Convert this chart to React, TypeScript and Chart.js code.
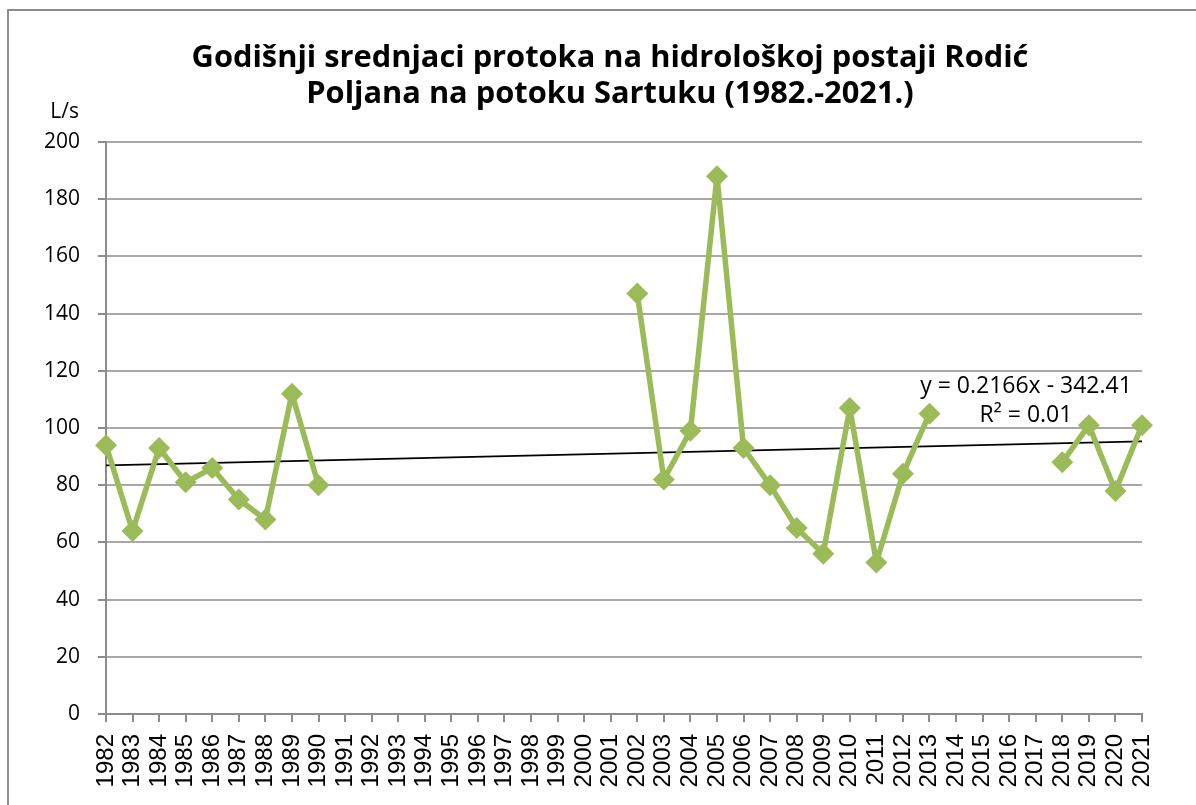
import React, { useEffect, useRef } from "react";
import { Chart, registerables } from "chart.js";

Chart.register(...registerables);

const years = [
  "1982", "1983", "1984", "1985", "1986", "1987", "1988", "1989", "1990", "1991",
  "1992", "1993", "1994", "1995", "1996", "1997", "1998", "1999", "2000", "2001",
  "2002", "2003", "2004", "2005", "2006", "2007", "2008", "2009", "2010", "2011",
  "2012", "2013", "2014", "2015", "2016", "2017", "2018", "2019", "2020", "2021",
];

const flow: (number | null)[] = [
  94, 64, 93, 81, 86, 75, 68, 112, 80, null,
  null, null, null, null, null, null, null, null, null, null,
  147, 82, 99, 188, 93, 80, 65, 56, 107, 53,
  84, 105, null, null, null, null, 88, 101, 78, 101,
];

const yTicks = [0, 20, 40, 60, 80, 100, 120, 140, 160, 180, 200];

const trendSlope = 0.2166;
const trendIntercept = -342.41;

const titleLines = [
  "Godišnji srednjaci protoka na hidrološkoj postaji Rodić",
  "Poljana na potoku Sartuku (1982.-2021.)",
];
const unitLabel = "L/s";
const equationLines = ["y = 0.2166x - 342.41", "R² = 0.01"];

const W = 1196;
const H = 805;
const TEXT_FONT = "'Open Sans', sans-serif";

const overlayPlugin = {
  id: "overlay",
  beforeDraw(chart: any) {
    const ctx = chart.ctx;
    ctx.save();
    ctx.fillStyle = "#ffffff";
    ctx.fillRect(0, 0, chart.width, chart.height);
    ctx.strokeStyle = "#8c8c8c";
    ctx.lineWidth = 2;
    ctx.beginPath();
    ctx.moveTo(8, H);
    ctx.lineTo(8, 10);
    ctx.lineTo(W, 10);
    ctx.stroke();
    ctx.restore();
  },
  afterDraw(chart: any) {
    const ctx = chart.ctx;
    ctx.save();
    ctx.fillStyle = "#000000";
    ctx.textAlign = "center";
    ctx.textBaseline = "alphabetic";
    ctx.font = `bold 30.8px ${TEXT_FONT}`;
    ctx.fillText(titleLines[0], 610, 67);
    ctx.fillText(titleLines[1], 610, 103);

    ctx.font = `21px ${TEXT_FONT}`;
    ctx.textAlign = "right";
    ctx.fillText(unitLabel, 79, 118);

    ctx.font = `23px ${TEXT_FONT}`;
    ctx.textAlign = "center";
    ctx.fillText(equationLines[0], 1026, 393);
    ctx.fillText(equationLines[1], 1026, 422);
    ctx.restore();
  },
};

export default function App() {
  const canvasRef = useRef<HTMLCanvasElement | null>(null);

  useEffect(() => {
    if (!canvasRef.current) return;
    const lastIdx = years.length - 1;
    const trend = years.map((y, i) =>
      i === 0 || i === lastIdx ? trendSlope * Number(y) + trendIntercept : null
    );

    const chart = new Chart(canvasRef.current, {
      type: "line",
      data: {
        labels: years,
        datasets: [
          {
            label: "Protok",
            data: flow,
            borderColor: "#9BBB59",
            backgroundColor: "#9BBB59",
            borderWidth: 5.5,
            borderJoinStyle: "round",
            pointStyle: "rectRot",
            pointRadius: 11,
            pointHoverRadius: 11,
            pointBorderWidth: 0,
            spanGaps: false,
            tension: 0,
            clip: false as any,
          },
          {
            label: "Trend",
            data: trend,
            borderColor: "#000000",
            borderWidth: 1.75,
            pointRadius: 0,
            spanGaps: true,
            tension: 0,
          },
        ],
      },
      options: {
        responsive: false,
        animation: false,
        layout: { padding: { left: 0, right: 54, top: 142, bottom: 0 } },
        plugins: {
          legend: { display: false },
          title: { display: false },
          tooltip: { enabled: false },
        },
        scales: {
          x: {
            type: "category",
            offset: false,
            grid: {
              display: true,
              drawOnChartArea: false,
              drawTicks: true,
              tickLength: 8,
              color: "#8c8c8c",
              lineWidth: 2,
            },
            border: { display: true, color: "#8c8c8c", width: 2 },
            ticks: {
              autoSkip: false,
              minRotation: 90,
              maxRotation: 90,
              padding: 12,
              color: "#000000",
              font: { family: "'Liberation Sans', Arial, sans-serif", size: 24 },
            },
            afterFit: (s: any) => {
              s.height = 91;
            },
          },
          y: {
            min: 0,
            max: 200,
            afterBuildTicks: (s: any) => {
              s.ticks = yTicks.map((v) => ({ value: v }));
            },
            grid: {
              color: "#a8a8a8",
              lineWidth: 2,
              tickLength: 8,
              tickColor: "#8c8c8c",
            },
            border: { display: true, color: "#8c8c8c", width: 2 },
            ticks: {
              padding: 18,
              color: "#000000",
              font: { family: TEXT_FONT, size: 21 },
            },
            afterFit: (s: any) => {
              s.width = 106;
            },
          },
        },
      },
      plugins: [overlayPlugin],
    });
    return () => chart.destroy();
  }, []);

  return (
    <div style={{ position: "fixed", left: 0, top: 0, width: W, height: H }}>
      <canvas ref={canvasRef} width={W} height={H} style={{ width: W, height: H, display: "block" }} />
    </div>
  );
}
